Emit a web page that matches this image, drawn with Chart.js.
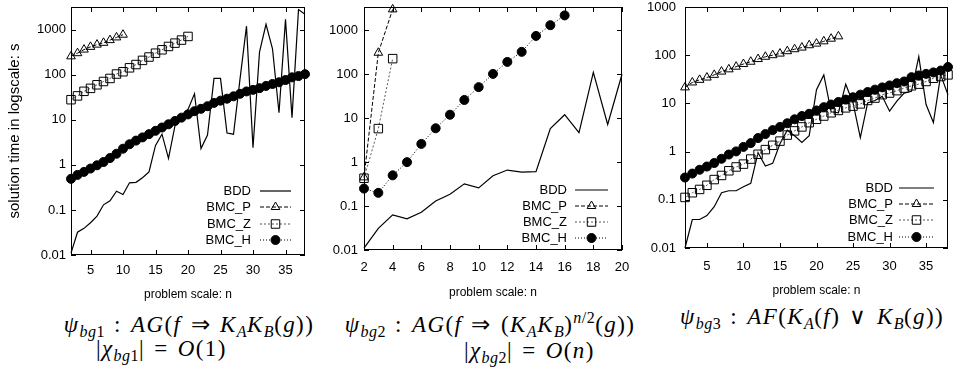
<!DOCTYPE html>
<html>
<head>
<meta charset="utf-8">
<script src="https://cdn.jsdelivr.net/npm/chart.js"></script>
<style>
body { margin: 0; background: #fff; }
#wrap { position: relative; width: 956px; height: 381px; overflow: hidden; background: #fff; }
#wrap canvas { position: absolute; top: 0; }
.f { position: absolute; font-family: 'Liberation Serif', 'Times New Roman', serif; font-size: 23px; white-space: nowrap; color: #000; line-height: 24px; letter-spacing: 1.4px; word-spacing: 2px; }
.f.c { transform: translateX(-50%); }
.f sub { font-size: 16px; line-height: 0; vertical-align: -5px; letter-spacing: 0.5px; }
.f sup { font-size: 16px; line-height: 0; vertical-align: 9px; letter-spacing: 0.5px; }
</style>
</head>
<body>
<div id="wrap">
  <canvas id="c1" width="312" height="305" style="left:0px"></canvas>
  <canvas id="c2" width="316" height="300" style="left:316px"></canvas>
  <canvas id="c3" width="321" height="298" style="left:635px"></canvas>

  <div class="f c" style="left:189px;top:313px"><i>ψ<sub>bg</sub></i><sub>1</sub> : <i>AG</i>(<i>f</i> ⇒ <i>K<sub>A</sub>K<sub>B</sub></i>(<i>g</i>))</div>
  <div class="f" style="left:96px;top:337px">|<i>χ<sub>bg</sub></i><sub>1</sub>| = <i>O</i>(1)</div>
  <div class="f c" style="left:490px;top:313px"><i>ψ<sub>bg</sub></i><sub>2</sub> : <i>AG</i>(<i>f</i> ⇒ (<i>K<sub>A</sub>K<sub>B</sub></i>)<sup><i>n</i>/2</sup>(<i>g</i>))</div>
  <div class="f" style="left:464px;top:339px">|<i>χ<sub>bg</sub></i><sub>2</sub>| = <i>O</i>(<i>n</i>)</div>
  <div class="f c" style="left:812px;top:305px"><i>ψ<sub>bg</sub></i><sub>3</sub> : <i>AF</i>(<i>K<sub>A</sub></i>(<i>f</i>) ∨ <i>K<sub>B</sub></i>(<i>g</i>))</div>
</div>
<script>
// problem scale n
const nLong  = [2,3,4,5,6,7,8,9,10,11,12,13,14,15,16,17,18,19,20,21,22,23,24,25,26,27,28,29,30,31,32,33,34,35,36,37,38];
const nShort = [2,3,4,5,6,7,8,9,10,11,12,13,14,15,16,17,18,19,20];

// panel 1 (psi_bg1), seconds
const p1Bdd  = [0.011,0.032,0.039,0.052,0.073,0.13,0.16,0.26,0.22,0.40,0.41,0.52,0.70,2.7,4.8,1.4,7.4,12.2,17,38,2.3,4.6,83,83,5.1,4.8,80,1200,2.4,318,1320,378,14.4,1700,11.2,2800,2200];
const p1BmcP = [257,302,363,417,468,513,589,676,776];
const p1BmcZ = [28,34,43,50,60,71,83,104,117,143,169,209,248,302,359,426,505,590,710];
const p1BmcH = [0.49,0.60,0.70,0.83,0.98,1.16,1.42,1.77,2.29,2.87,3.46,4.08,4.82,5.71,6.76,7.98,9.44,11.2,13.2,15.6,17.6,20.1,23.8,26.7,29.5,33.3,37.9,42.8,46.3,50.5,56.6,62.6,68.2,76.6,87.7,93.7,103.5];

// panel 2 (psi_bg2)
const p2Bdd  = [0.011,0.031,0.063,0.051,0.072,0.13,0.185,0.32,0.26,0.49,0.66,0.59,0.61,5.8,12,4.7,110,7.2,100];
const p2BmcP = [0.45,309,3000];
const p2BmcZ = [0.43,5.8,227];
const p2BmcH = [0.25,0.20,0.50,1.0,2.6,5.9,12,26,51,102,191,324,746,1310,2190];

// panel 3 (psi_bg3)
const p3Bdd  = [0.01,0.039,0.039,0.047,0.072,0.14,0.154,0.154,0.186,0.22,0.95,0.50,0.57,1.45,2.78,2.13,1.55,2.13,19.3,39,6.7,6.4,25,10.2,1.96,10.2,11.5,14,6.9,11.1,16.4,17.8,93,9.5,4.0,39,15];
const p3BmcP = [21.5,27.2,30.8,34.4,39.1,45.7,50.9,57.8,65.6,73.2,83.1,92.7,100,108,121,133,144,161,174,194,220,246];
const p3BmcZ = [0.112,0.14,0.164,0.20,0.263,0.32,0.40,0.48,0.55,0.70,0.88,1.1,1.35,1.65,2.2,2.69,3.25,3.98,4.68,5.47,6.39,7.14,8.09,8.77,9.77,11.5,12.9,15.2,16.4,18.4,20.8,23.2,25.1,28.5,33.3,36.1,39.1];
const p3BmcH = [0.29,0.35,0.42,0.49,0.58,0.71,0.87,1.01,1.25,1.5,1.91,2.31,2.79,3.25,3.87,4.68,5.47,6.09,7.14,8.36,9.48,10.7,12.0,13.4,15.2,17.2,19.3,21.5,23.6,26.3,28.5,35,38,41,44,48,57];

const seriesNames = ['BDD', 'BMC_P', 'BMC_Z', 'BMC_H'];
const xTicksLong  = [5,10,15,20,25,30,35];
const xTicksShort = [2,4,6,8,10,12,14,16,18,20];
const yTicks      = [0.01,0.1,1,10,100,1000];
const yTickLabels = ['0.01','0.1','1','10','100','1000'];

const SANS = "'Liberation Sans', Arial, sans-serif";

function pts(ns, vals) {
  return vals.map((v, i) => ({x: ns[i], y: v}));
}

// gnuplot-ish frame, inward ticks on all sides, and key inside the plot
const framePlugin = {
  id: 'frame',
  afterDraw(chart, args, o) {
    const {ctx, chartArea: a} = chart;
    const xs = chart.scales.x, ys = chart.scales.y;
    ctx.save();
    ctx.strokeStyle = '#000';
    ctx.lineWidth = 1;
    ctx.setLineDash([]);
    ctx.strokeRect(Math.round(a.left) + 0.5, Math.round(a.top) + 0.5,
                   Math.round(a.right - a.left) - 1, Math.round(a.bottom - a.top) - 1);
    ctx.beginPath();
    xs.ticks.forEach(t => {
      const px = Math.round(xs.getPixelForValue(t.value)) + 0.5;
      ctx.moveTo(px, a.bottom); ctx.lineTo(px, a.bottom - 5);
      ctx.moveTo(px, a.top); ctx.lineTo(px, a.top + 5);
    });
    ys.ticks.forEach(t => {
      const py = Math.round(ys.getPixelForValue(t.value)) + 0.5;
      ctx.moveTo(a.left, py); ctx.lineTo(a.left + 5, py);
      ctx.moveTo(a.right, py); ctx.lineTo(a.right - 5, py);
    });
    ctx.stroke();

    // key
    ctx.font = '13px ' + SANS;
    ctx.textAlign = 'right';
    ctx.textBaseline = 'middle';
    ctx.fillStyle = '#000';
    chart.data.datasets.forEach((ds, i) => {
      const yy = a.bottom - o.rows[i];
      ctx.fillText(ds.label, a.right - o.textRight, yy);
      const x1 = a.right - o.s1, x2 = a.right - o.s2;
      ctx.save();
      ctx.strokeStyle = ds.borderColor;
      ctx.lineWidth = ds.borderWidth;
      ctx.setLineDash(ds.borderDash || []);
      ctx.beginPath();
      ctx.moveTo(x1, yy); ctx.lineTo(x2, yy);
      ctx.stroke();
      ctx.restore();
      if (ds.pointRadius > 0) {
        ctx.save();
        ctx.setLineDash([]);
        ctx.strokeStyle = ds.pointBorderColor;
        ctx.fillStyle = ds.pointBackgroundColor;
        ctx.lineWidth = 1;
        Chart.helpers.drawPoint(ctx, {pointStyle: ds.pointStyle, radius: ds.pointRadius, rotation: 0, borderWidth: 1},
          (x1 + x2) / 2, yy);
        ctx.restore();
      }
    });
    ctx.restore();
  }
};

function makeDatasets(ns, bdd, p, z, h) {
  return [
    {label: seriesNames[0], data: pts(ns, bdd), order: 3,
     borderColor: '#000', borderWidth: 1.2, pointRadius: 0, pointHoverRadius: 0,
     pointBorderColor: '#000', pointBackgroundColor: '#000'},
    {label: seriesNames[1], data: pts(ns, p), order: 2,
     borderColor: '#000', borderWidth: 1, borderDash: [4, 2],
     pointStyle: 'triangle', pointRadius: 5, pointBorderWidth: 1,
     pointBorderColor: '#000', pointBackgroundColor: 'rgba(0,0,0,0)'},
    {label: seriesNames[2], data: pts(ns, z), order: 1,
     borderColor: '#555', borderWidth: 1, borderDash: [2, 2],
     pointStyle: 'rect', pointRadius: 6, pointBorderWidth: 1,
     pointBorderColor: '#000', pointBackgroundColor: 'rgba(0,0,0,0)'},
    {label: seriesNames[3], data: pts(ns, h), order: 0,
     borderColor: '#000', borderWidth: 1, borderDash: [1, 2],
     pointStyle: 'circle', pointRadius: 4.5, pointBorderWidth: 1,
     pointBorderColor: '#000', pointBackgroundColor: '#000'}
  ].map(d => Object.assign(d, {tension: 0, clip: false, fill: false}));
}

function makePanel(id, datasets, c) {
  new Chart(document.getElementById(id), {
    type: 'line',
    data: {datasets: datasets},
    plugins: [framePlugin],
    options: {
      responsive: false,
      animation: false,
      devicePixelRatio: 1,
      layout: {padding: {top: c.padTop, right: c.padRight, left: 0, bottom: 0}},
      plugins: {
        legend: {display: false},
        tooltip: {enabled: false},
        frame: c.key
      },
      scales: {
        x: {
          type: 'linear', min: c.xMin, max: c.xMax,
          afterBuildTicks: s => { s.ticks = c.xTicks.map(v => ({value: v})); },
          afterFit: s => { s.height = c.xH; s.paddingLeft = 0; s.paddingRight = 0; },
          grid: {display: false, drawTicks: false},
          border: {display: false},
          ticks: {padding: c.xTickPad, color: '#000', font: {family: SANS, size: 13},
                  maxRotation: 0, autoSkip: false},
          title: {display: true, text: 'problem scale: n', color: '#000',
                  font: {family: SANS, size: 12}, padding: {top: 0, bottom: c.xTitlePad}}
        },
        y: {
          type: 'logarithmic', min: 0.01, max: c.yMax,
          afterBuildTicks: s => { s.ticks = yTicks.map(v => ({value: v})); },
          afterFit: s => { s.width = c.yW; s.paddingTop = 0; s.paddingBottom = 0; },
          grid: {display: false, drawTicks: false},
          border: {display: false},
          ticks: {padding: c.yTickPad, color: '#000', font: {family: SANS, size: 13},
                  autoSkip: false, callback: (v, i) => yTickLabels[i]},
          title: {display: c.yTitle, text: 'solution time in logscale: s', color: '#000',
                  font: {family: SANS, size: 15}, padding: {top: 6, bottom: 0}}
        }
      }
    }
  });
}

makePanel('c1', makeDatasets(nLong, p1Bdd, p1BmcP, p1BmcZ, p1BmcH), {
  padTop: 3, padRight: 5, xH: 50, yW: 71, xMin: 2, xMax: 38, xTicks: xTicksLong,
  xTickPad: 8, yTickPad: 5, xTitlePad: 3, yMax: 3200, yTitle: true,
  key: {rows: [64, 48, 31, 15], textRight: 54, s1: 45, s2: 14}
});
makePanel('c2', makeDatasets(nShort, p2Bdd, p2BmcP, p2BmcZ, p2BmcH), {
  padTop: 3, padRight: 10, xH: 50, yW: 48, xMin: 2, xMax: 20, xTicks: xTicksShort,
  xTickPad: 10, yTickPad: 6, xTitlePad: 0, yMax: 3400, yTitle: false,
  key: {rows: [60, 44, 28, 12], textRight: 55, s1: 47, s2: 14}
});
makePanel('c3', makeDatasets(nLong, p3Bdd, p3BmcP, p3BmcZ, p3BmcH), {
  padTop: 4, padRight: 8, xH: 50, yW: 50, xMin: 2, xMax: 38, xTicks: xTicksLong,
  xTickPad: 11, yTickPad: 9, xTitlePad: 0, yMax: 1000, yTitle: false,
  key: {rows: [60, 44, 28, 11], textRight: 55, s1: 49, s2: 14}
});
</script>
</body>
</html>
